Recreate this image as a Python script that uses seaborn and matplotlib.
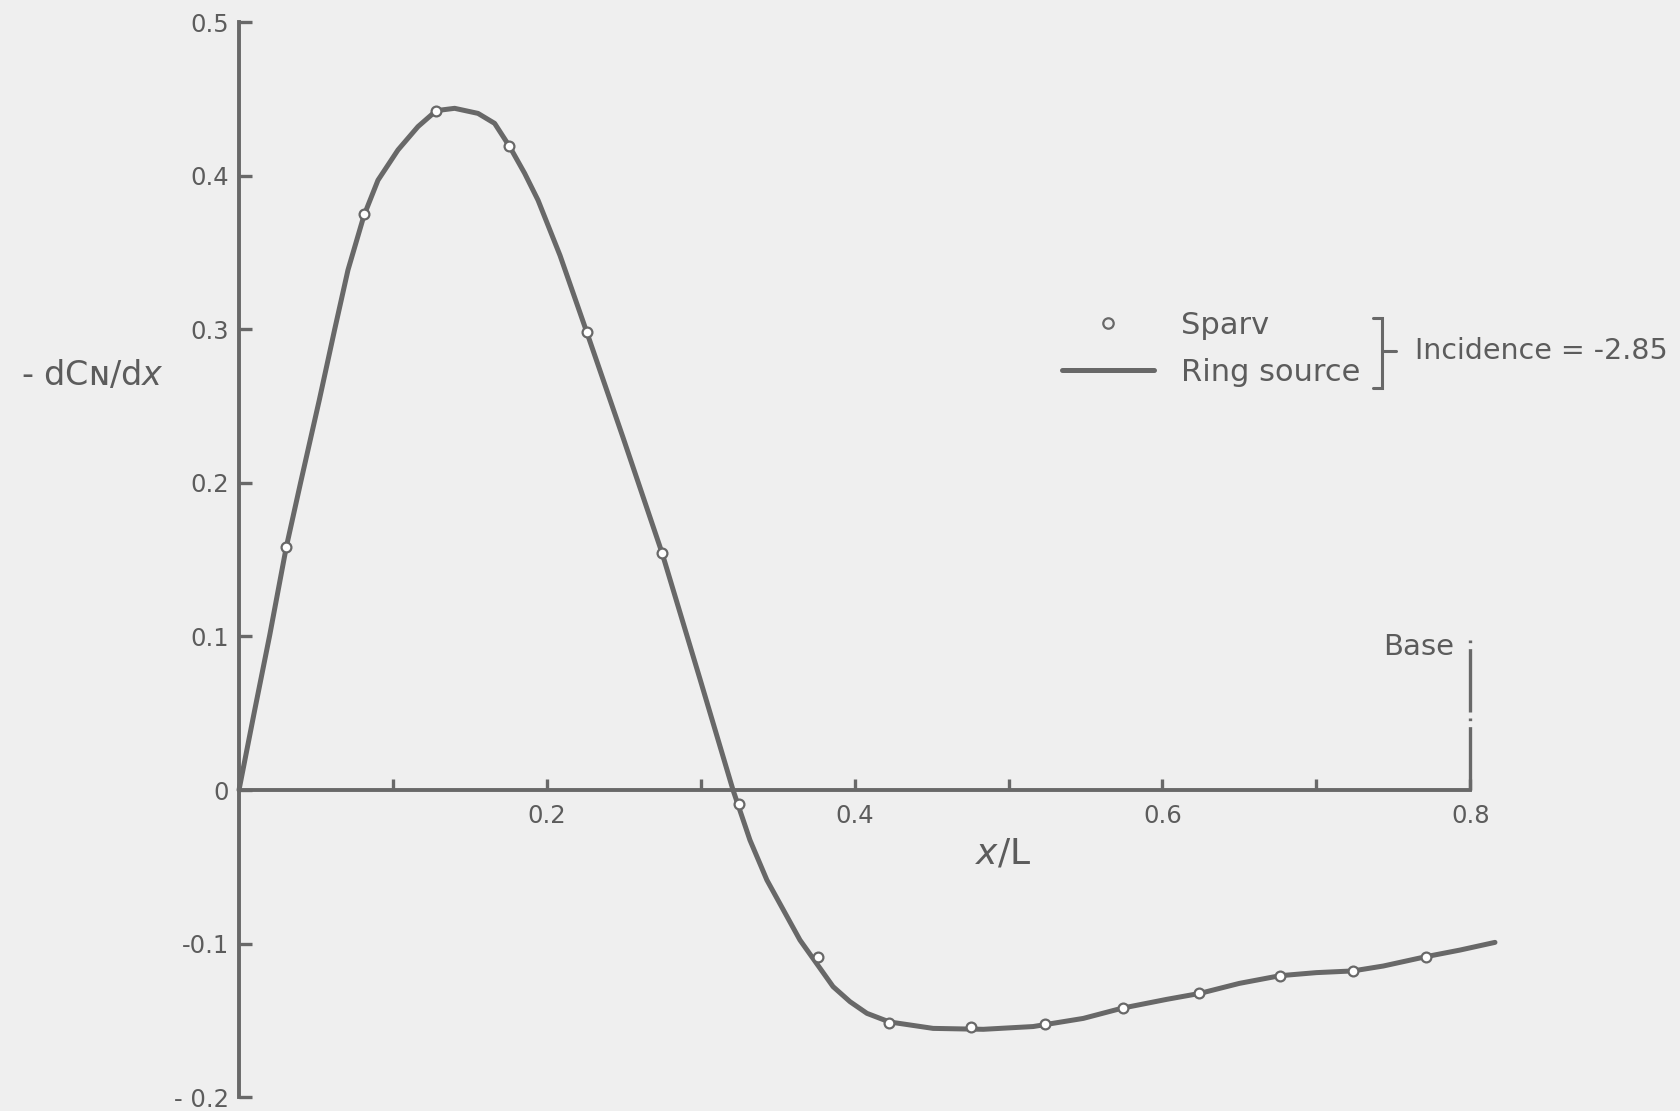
import numpy as np
import pandas as pd
import matplotlib
matplotlib.use("Agg")
import matplotlib.pyplot as plt
from matplotlib.lines import Line2D
from matplotlib.ticker import FixedLocator, FixedFormatter, NullFormatter
import seaborn as sns

# ---------------- data ----------------
ring_x = [0.0, 0.010, 0.020, 0.0307, 0.040, 0.0522, 0.0622, 0.0708, 0.0812,
          0.0903, 0.1033, 0.1163, 0.1282, 0.1401, 0.1553, 0.1661, 0.1759,
          0.1856, 0.1943, 0.2086, 0.226, 0.2497, 0.275, 0.2995, 0.321, 0.332,
          0.343, 0.3645, 0.386, 0.397, 0.408, 0.4226, 0.451, 0.4836, 0.516,
          0.5486, 0.574, 0.6028, 0.6244, 0.650, 0.6764, 0.700, 0.7237, 0.7435,
          0.7713, 0.7934, 0.8161]
ring_y = [0.0, 0.051, 0.101, 0.158, 0.200, 0.254, 0.300, 0.3385, 0.374, 0.397,
          0.4167, 0.4319, 0.4423, 0.4438, 0.4405, 0.434, 0.4188, 0.4015, 0.384,
          0.348, 0.298, 0.229, 0.154, 0.0724, 0.0, -0.0326, -0.0586, -0.0977,
          -0.128, -0.1378, -0.1454, -0.151, -0.1552, -0.1558, -0.154, -0.1487,
          -0.142, -0.1363, -0.1324, -0.1259, -0.1209, -0.1189, -0.1178,
          -0.1146, -0.1085, -0.1042, -0.0992]

sparv_x = [0.0307, 0.0812, 0.128, 0.1757, 0.2263, 0.275, 0.325, 0.3764, 0.4226,
           0.4754, 0.524, 0.5742, 0.6239, 0.6764, 0.7237, 0.7713]
sparv_y = [0.158, 0.375, 0.442, 0.419, 0.298, 0.1544, -0.0093, -0.1085, -0.1519,
           -0.1541, -0.1526, -0.1417, -0.1324, -0.1209, -0.1178, -0.1085]

y_ticks = [-0.2, -0.1, 0.0, 0.1, 0.2, 0.3, 0.4, 0.5]
y_tick_labels = ["- 0.2", "-0.1", "0", "0.1", "0.2", "0.3", "0.4", "0.5"]
x_major = [0.2, 0.4, 0.6, 0.8]
x_major_labels = ["0.2", "0.4", "0.6", "0.8"]
x_minor = [0.1, 0.3, 0.5, 0.7]
base_x = 0.8
base_top = 0.1
incidence = "-2.85"

# ---------------- style ----------------
sns.set_theme(style="white")
plt.rcParams["font.family"] = ["DejaVu Sans"]
plt.rcParams["mathtext.fontset"] = "dejavusans"

BG = "#efefef"
INK = "#686868"
TXT = "#5c5c5c"

fig = plt.figure(figsize=(16.8, 11.11), dpi=100, facecolor=BG)
ax = fig.add_axes([0, 0, 1, 1])
ax.set_facecolor(BG)

# pixel-calibrated data limits
ax.set_xlim(-239 / 1539, (1680 - 239) / 1539)
ax.set_ylim(-(1111 - 790) / 1536, 790 / 1536)

curve = pd.DataFrame({"x": ring_x, "y": ring_y})
pts = pd.DataFrame({"x": sparv_x, "y": sparv_y})

sns.lineplot(data=curve, x="x", y="y", ax=ax, color=INK, linewidth=3.6,
             sort=False, estimator=None, zorder=2, legend=False,
             solid_joinstyle="round", solid_capstyle="round")
sns.scatterplot(data=pts, x="x", y="y", ax=ax, marker="o", s=50,
                facecolor="white", edgecolor=INK, linewidth=1.6, zorder=3,
                legend=False)

# spines through the origin
for side in ["top", "right"]:
    ax.spines[side].set_visible(False)
ax.spines["left"].set_position(("data", 0))
ax.spines["bottom"].set_position(("data", 0))
ax.spines["left"].set_bounds(-0.2, 0.5)
ax.spines["bottom"].set_bounds(0, 0.8)
for side in ["left", "bottom"]:
    ax.spines[side].set_color(INK)
    ax.spines[side].set_linewidth(2.8)
    ax.spines[side].set_zorder(1)

ax.yaxis.set_major_locator(FixedLocator(y_ticks))
ax.yaxis.set_major_formatter(FixedFormatter(y_tick_labels))
ax.xaxis.set_major_locator(FixedLocator(x_major))
ax.xaxis.set_major_formatter(FixedFormatter(x_major_labels))
ax.xaxis.set_minor_locator(FixedLocator(x_minor))
ax.xaxis.set_minor_formatter(NullFormatter())

ax.tick_params(axis="y", which="major", direction="in", length=9, width=2.4,
               pad=7, labelsize=17.5, colors=INK, labelcolor=TXT, left=True)
ax.tick_params(axis="x", which="both", direction="in", length=8, width=2.4,
               pad=10, labelsize=17.5, colors=INK, labelcolor=TXT, bottom=True)
ax.set_xlabel("")
ax.set_ylabel("")

# axis titles
ax.text(-0.0955, 0.270, "- dCɴ/d$x$", ha="center", va="center",
        fontsize=24, color=TXT)
ax.text(0.4968, -0.0415, "$x$/L", ha="center", va="center",
        fontsize=26, color=TXT)

# base marker (dash-dot)
ax.plot([base_x, base_x], [0, base_top], color=INK, linewidth=2.4,
        linestyle=(0, (19, 1.8, 0.8, 1.8)), zorder=1)
ax.text(0.7895, 0.0931, "Base", ha="right", va="center", fontsize=21, color=TXT)

# legend
handles = [
    Line2D([], [], linestyle="none", marker="o", markersize=7.5,
           markerfacecolor="none", markeredgecolor=INK, markeredgewidth=1.6),
    Line2D([], [], color=INK, linewidth=3.6),
]
leg = ax.legend(handles, ["Sparv", "Ring source"], loc="upper left",
                bbox_to_anchor=(1062 / 1680, 1 - 311 / 1111),
                bbox_transform=fig.transFigure, frameon=False, fontsize=22,
                handlelength=3.0, handletextpad=0.88, labelspacing=0.575,
                borderpad=0, borderaxespad=0)
for t in leg.get_texts():
    t.set_color(TXT)

# bracket + incidence note
bx, btop, bbot, bmid = 0.7427, 0.307, 0.262, 0.286
ax.plot([bx - 0.006, bx, bx, bx - 0.006], [btop, btop, bbot, bbot],
        color=INK, linewidth=2.2, solid_joinstyle="miter")
ax.plot([bx, bx + 0.009], [bmid, bmid], color=INK, linewidth=2.2)
ax.text(0.764, bmid, "Incidence = " + incidence, ha="left", va="center",
        fontsize=20.5, color=TXT)

fig.savefig("out.png", dpi=100, facecolor=BG)
